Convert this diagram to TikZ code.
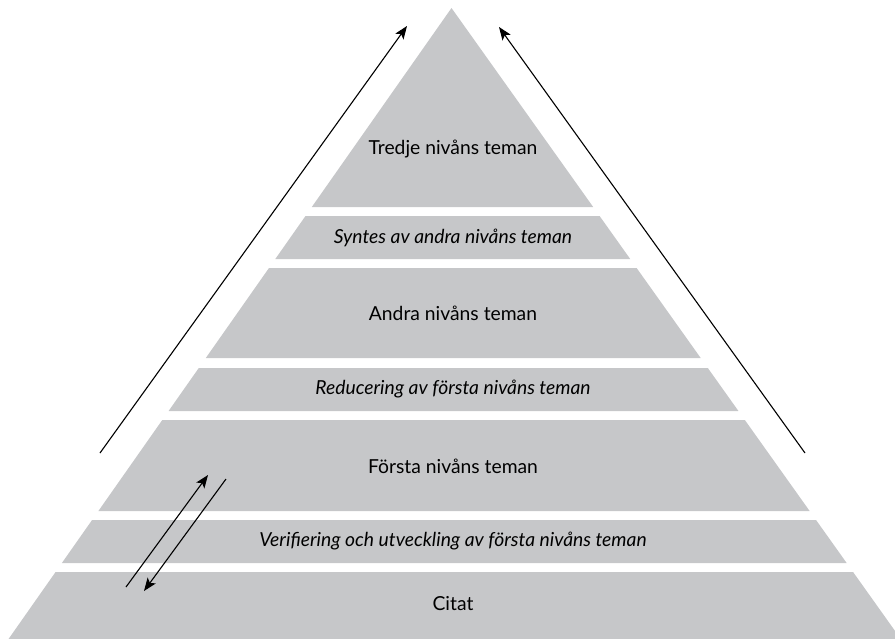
\documentclass[tikz,border=0pt]{standalone}
\usepackage{fontspec}
\setmainfont{Lato}
\usetikzlibrary{arrows.meta}
\definecolor{bandgray}{HTML}{C6C7C9}
\tikzset{
  band/.style={fill=bandgray, draw=none},
  label/.style={font=\fontsize{19.3}{22}\selectfont, text=black, inner sep=0pt},
  ilabel/.style={label, font=\fontsize{19.3}{22}\selectfont\itshape},
  conn/.style={line width=1.1pt, -{Stealth[length=13pt,width=10pt,inset=3pt]}}
}
\newcommand{\bandpoly}[2]{%
  \path[band] ({451.5-0.702*(#1-8)},#1) -- ({451.5+0.712*(#1-8)},#1)
    -- ({451.5+0.712*(#2-8)},#2) -- ({451.5-0.702*(#2-8)},#2) -- cycle;}
\begin{document}
\begin{tikzpicture}[x=1pt,y=-1pt]
\useasboundingbox (0,0) rectangle (895,638);
\path[band] (451.5,8) -- ({451.5+0.712*199},207) -- ({451.5-0.702*199},207) -- cycle;
\bandpoly{216}{259}
\bandpoly{268}{358}
\bandpoly{368}{411}
\bandpoly{420}{511}
\bandpoly{520}{563}
\bandpoly{572}{640}

\node[label]  (t1) at (453,149) {Tredje nivåns teman};
\node[ilabel] (t2) at (453,238) {Syntes av andra nivåns teman};
\node[label]  (t3) at (453,313) {Andra nivåns teman};
\node[ilabel] (t4) at (453,389) {Reducering av första nivåns teman};
\node[label]  (t5) at (453,466) {Första nivåns teman};
\node[ilabel] (t6) at (453,541) {Verifiering och utveckling av första nivåns teman};
\node[label]  (t7) at (453,604) {Citat};

\coordinate (l0) at (100,453);
\coordinate (l1) at (407,26);
\coordinate (r0) at (805,453);
\coordinate (r1) at (499,27);
\coordinate (u0) at (126,587);
\coordinate (u1) at (208,475);
\coordinate (d0) at (226,479);
\coordinate (d1) at (144,591);

\draw[conn] (l0) -- (l1);
\draw[conn] (r0) -- (r1);
\draw[conn] (u0) -- (u1);
\draw[conn] (d0) -- (d1);
\end{tikzpicture}
\end{document}
